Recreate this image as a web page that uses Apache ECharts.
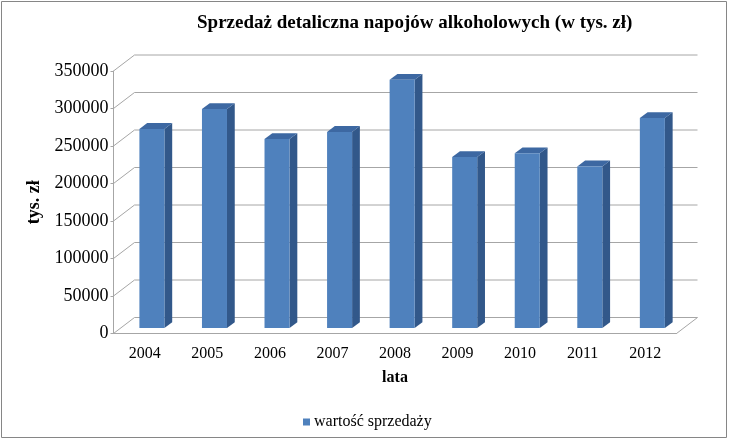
<!DOCTYPE html>
<html>
<head>
<meta charset="utf-8">
<script src="https://cdn.jsdelivr.net/npm/echarts@6/dist/echarts.min.js"></script>
<style>
  html, body { margin: 0; padding: 0; background: #fff; }
  #chart-container { width: 729px; height: 440px; }
</style>
</head>
<body>
<div id="chart-container"></div>
<script>
const years = ["2004", "2005", "2006", "2007", "2008", "2009", "2010", "2011", "2012"];
const salesValues = [265500, 292000, 252000, 261500, 331000, 228000, 233000, 215500, 280000];
const yTicks = [0, 50000, 100000, 150000, 200000, 250000, 300000, 350000];

// oblique depth of the "3d" box
const DX = 21, DY = 16;
const FRONT = 0.34, DEPTH = 0.37; // bar position / thickness as share of depth
const serif = "'Liberation Serif', 'Times New Roman', serif";

var dom = document.getElementById("chart-container");
var myChart = echarts.init(dom, null, { renderer: "canvas" });

const renderWall = function (params, api) {
  const v = api.value(0);
  const cs = params.coordSys;
  const y = api.coord([0, v])[1];
  const left = cs.x, right = cs.x + cs.width;
  const style = { stroke: "#a6a6a6", lineWidth: 1, fill: null };
  const children = [
    { type: "line", shape: { x1: left, y1: y, x2: left + DX, y2: y - DY }, style: style },
    { type: "line", shape: { x1: left + DX, y1: y - DY, x2: right + DX, y2: y - DY }, style: style }
  ];
  if (v === 0) {
    children.push({ type: "line", shape: { x1: right, y1: y, x2: right + DX, y2: y - DY }, style: style });
  }
  return { type: "group", silent: true, children: children };
};

const renderBar = function (params, api) {
  const i = api.value(0);
  const top = api.coord([i, api.value(1)]);
  const base = api.coord([i, 0]);
  const w = api.size([1, 0])[0] * 0.4;
  const x0 = top[0] - w / 2 + DX * FRONT;
  const yT = top[1] - DY * FRONT;
  const yB = base[1] - DY * FRONT;
  const ox = DX * DEPTH, oy = DY * DEPTH;
  return {
    type: "group",
    children: [
      { type: "polygon", shape: { points: [[x0 + w, yT], [x0 + w + ox, yT - oy], [x0 + w + ox, yB - oy], [x0 + w, yB]] },
        style: { fill: "#32588a" } },
      { type: "polygon", shape: { points: [[x0, yT], [x0 + ox, yT - oy], [x0 + w + ox, yT - oy], [x0 + w, yT]] },
        style: { fill: "#3d68a2" } },
      { type: "rect", shape: { x: x0, y: yT, width: w, height: yB - yT },
        style: { fill: "#4f81bd" } }
    ]
  };
};

var option = {
  backgroundColor: "#fff",
  animation: false,
  title: {
    text: "Sprzedaż detaliczna napojów alkoholowych (w tys. zł)",
    left: 192,
    top: 9,
    textStyle: { fontFamily: serif, fontSize: 19, fontWeight: "bold", color: "#000" }
  },
  graphic: [
    { type: "rect", shape: { x: 1.5, y: 1.5, width: 725, height: 436 },
      style: { fill: null, stroke: "#868686", lineWidth: 1 }, silent: true }
  ],
  legend: {
    left: 298,
    top: 409,
    itemWidth: 7,
    itemHeight: 7,
    itemGap: 10,
    icon: "rect",
    textStyle: { fontFamily: serif, fontSize: 16, color: "#000", padding: [0, 0, 0, -1] },
    data: ["wartość sprzedaży"]
  },
  grid: { left: 113.5, right: 52.5, top: 71, bottom: 106.5 },
  xAxis: {
    type: "category",
    data: years,
    name: "lata",
    nameLocation: "middle",
    nameGap: 36,
    nameTextStyle: { fontFamily: serif, fontSize: 16, fontWeight: "bold", color: "#000" },
    axisLine: { lineStyle: { color: "#a6a6a6" } },
    axisTick: { show: false },
    axisLabel: { fontFamily: serif, fontSize: 16, color: "#000", margin: 12 }
  },
  yAxis: {
    type: "value",
    min: 0,
    max: 350000,
    interval: 50000,
    name: "tys. zł",
    nameLocation: "middle",
    nameRotate: 90,
    nameGap: 63,
    nameTextStyle: { fontFamily: serif, fontSize: 18, fontWeight: "bold", color: "#000" },
    axisLine: { show: true, lineStyle: { color: "#a6a6a6" } },
    axisTick: { show: true, length: 3, lineStyle: { color: "#a6a6a6" } },
    splitLine: { show: false },
    axisLabel: { fontFamily: serif, fontSize: 18, color: "#000", margin: 5,
      formatter: function (v) { return String(v); } }
  },
  series: [
    {
      type: "custom",
      name: "wall",
      silent: true,
      renderItem: renderWall,
      data: yTicks.map(function (t) { return [t]; }),
      encode: { y: 0 },
      z: 1
    },
    {
      type: "custom",
      name: "wartość sprzedaży",
      itemStyle: { color: "#4f81bd" },
      renderItem: renderBar,
      data: salesValues.map(function (v, i) { return [i, v]; }),
      encode: { x: 0, y: 1 },
      z: 3
    }
  ]
};

myChart.setOption(option);
window.addEventListener("resize", myChart.resize);
</script>
</body>
</html>
